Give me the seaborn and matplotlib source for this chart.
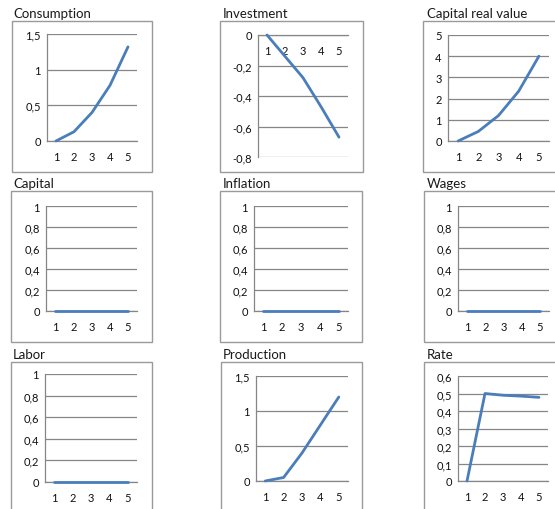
import pandas as pd
import seaborn as sns
import matplotlib

matplotlib.use("Agg")
import matplotlib.pyplot as plt
from matplotlib.patches import Rectangle
from matplotlib.ticker import FuncFormatter, MultipleLocator

# --- data ---
periods = [1, 2, 3, 4, 5]
consumption = [0, 0.13, 0.40, 0.78, 1.32]
investment = [0, -0.14, -0.28, -0.47, -0.67]
capital_real_value = [0, 0.45, 1.20, 2.35, 4.00]
capital = [0, 0, 0, 0, 0]
inflation = [0, 0, 0, 0, 0]
wages = [0, 0, 0, 0, 0]
labor = [0, 0, 0, 0, 0]
production = [0, 0.05, 0.40, 0.80, 1.20]
rate = [0, 0.50, 0.49, 0.485, 0.478]

titles = ["Consumption", "Investment", "Capital real value",
          "Capital", "Inflation", "Wages",
          "Labor", "Production", "Rate"]
series = [consumption, investment, capital_real_value,
          capital, inflation, wages,
          labor, production, rate]
y_ranges = [(0, 1.5, 0.5), (-0.8, 0, 0.2), (0, 5, 1),
            (0, 1, 0.2), (0, 1, 0.2), (0, 1, 0.2),
            (0, 1, 0.2), (0, 1.5, 0.5), (0, 0.6, 0.1)]

# layout in pixels: plot area (l, t, r, b), frame box (l, t, r, b), title (x, baseline)
plot_px = [(47, 35, 137, 142), (258, 36, 348, 158), (448, 36, 549, 142),
           (46, 207, 137, 312), (254, 207, 348, 312), (458, 207, 549, 312),
           (45, 375, 137, 483), (256, 377, 348, 482), (458, 377, 548, 482)]
box_px = [(12, 22, 152, 173), (220, 22, 363, 173), (423, 22, 570, 173),
          (11, 192, 152, 343), (220, 192, 362, 343), (424, 192, 570, 343),
          (11, 363, 152, 520), (221, 363, 362, 520), (424, 363, 570, 520)]
title_px = [(13, 18), (223, 18), (427, 18),
            (13, 188), (223, 188), (427, 188),
            (13, 359), (223, 359), (427, 359)]

W, H = 555, 510
LINE = "#4A7EBB"
GRID = "#868686"
BOX = "#9a9a9a"

sns.set_style("white")
plt.rcParams["font.family"] = ["Lato", "DejaVu Sans"]

fig = plt.figure(figsize=(W / 100, H / 100), dpi=100)

comma = FuncFormatter(lambda v, pos: f"{v:g}".replace(".", ","))

for i in range(9):
    l, t, r, b = plot_px[i]
    ax = fig.add_axes([l / W, 1 - b / H, (r - l) / W, (b - t) / H])

    bl, bt, br, bb = box_px[i]
    fig.patches.append(Rectangle((bl / W, 1 - bb / H), (br - bl) / W, (bb - bt) / H,
                                 transform=fig.transFigure, fill=False,
                                 edgecolor=BOX, linewidth=1.0, zorder=0))
    tx, ty = title_px[i]
    fig.text(tx / W, 1 - ty / H, titles[i], fontsize=9.5, va="baseline", ha="left",
             color="#1a1a1a")

    df = pd.DataFrame({"period": periods, "value": series[i]})
    sns.lineplot(data=df, x="period", y="value", ax=ax, color=LINE,
                 linewidth=2, clip_on=False, zorder=5)

    lo, hi, step = y_ranges[i]
    ax.set_xlim(0.5, 5.5)
    ax.set_ylim(lo, hi)
    ax.yaxis.set_major_locator(MultipleLocator(step))
    ax.yaxis.set_major_formatter(comma)
    ax.set_xticks(periods)
    ax.set_xticks([p - 0.5 for p in periods] + [5.5], minor=True)

    for side in ["top", "right"]:
        ax.spines[side].set_visible(False)
    ax.spines["left"].set_color(GRID)
    ax.spines["left"].set_linewidth(0.9)
    ax.spines["bottom"].set_position(("data", 0))
    ax.spines["bottom"].set_color(GRID)
    ax.spines["bottom"].set_linewidth(0.9)

    ax.yaxis.grid(True, color=GRID, linewidth=0.9)
    ax.set_axisbelow(True)

    ax.tick_params(axis="y", which="major", direction="out", length=3.5,
                   width=0.8, color=GRID, pad=1, labelsize=8, labelcolor="#111111")
    ax.tick_params(axis="x", which="major", length=0, pad=7.5, labelsize=8,
                   labelcolor="#111111")
    ax.tick_params(axis="x", which="minor", direction="out", length=3.5,
                   width=0.8, color=GRID)
    ax.set_xlabel("")
    ax.set_ylabel("")

fig.savefig("out.png", dpi=100)
